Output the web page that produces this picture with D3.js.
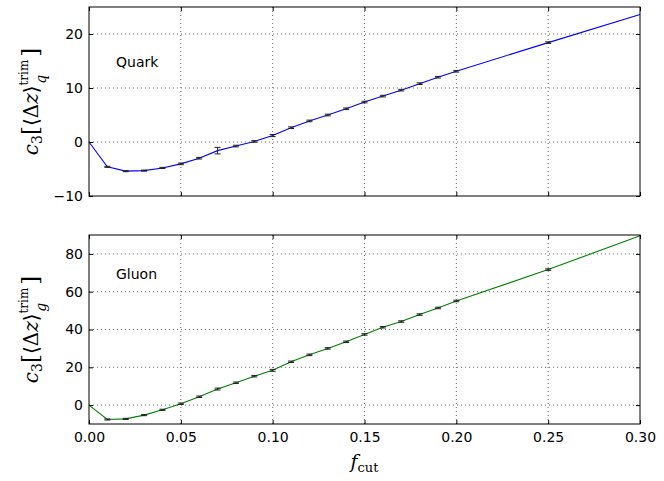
<!DOCTYPE html>
<html><head><meta charset="utf-8">
<script src="https://cdn.jsdelivr.net/npm/d3@7"></script>
<style>body{margin:0;background:#fff}svg{display:block}</style>
</head><body>
<svg id="c" width="664" height="481"></svg>
<script>
const fcut = [0,0.01,0.02,0.03,0.04,0.05,0.06,0.07,0.08,0.09,0.10,0.11,0.12,0.13,0.14,0.15,0.16,0.17,0.18,0.19,0.20,0.25,0.30];
const quark = [0,-4.6,-5.4,-5.3,-4.8,-4.05,-3.0,-1.6,-0.75,0.1,1.2,2.65,3.9,5.0,6.15,7.4,8.5,9.6,10.8,12.0,13.1,18.4,23.6];
const quarkErr = [0,0.1,0.1,0.1,0.1,0.15,0.15,0.6,0.15,0.15,0.2,0.15,0.15,0.15,0.15,0.15,0.15,0.15,0.15,0.15,0.15,0.15,0];
const gluon = [0,-7.6,-7.3,-5.3,-2.5,0.7,4.4,8.5,11.8,15.3,18.4,22.9,26.6,30.0,33.5,37.4,41.2,44.2,47.9,51.4,55.1,71.7,89.6];
const gluonErr = [0,0.3,0.3,0.3,0.3,0.4,0.4,0.5,0.4,0.4,0.5,0.4,0.4,0.4,0.4,0.4,0.4,0.4,0.4,0.4,0.4,0.4,0];
const xTicks = [0,0.05,0.10,0.15,0.20,0.25,0.30];
const quarkTicks = [-10,0,10,20];
const gluonTicks = [0,20,40,60,80];

const svg = d3.select("#c");
const L = 89, R = 640;
const x = d3.scaleLinear().domain([0,0.30]).range([L,R]);

function panel(top, bottom, domain, ticks, data, err, color, name, nameY, showX, sub) {
  const y = d3.scaleLinear().domain(domain).range([bottom, top]);
  const g = svg.append("g");
  g.selectAll(".gx").data(xTicks.slice(1,-1)).enter().append("line")
    .attr("x1", d=>x(d)).attr("x2", d=>x(d)).attr("y1", top).attr("y2", bottom)
    .attr("stroke","#000").attr("stroke-width",0.6).attr("stroke-dasharray","1,3");
  g.selectAll(".gy").data(ticks.filter(t=>t>domain[0]&&t<domain[1])).enter().append("line")
    .attr("x1", L).attr("x2", R).attr("y1", d=>y(d)).attr("y2", d=>y(d))
    .attr("stroke","#000").attr("stroke-width",0.6).attr("stroke-dasharray","1,3");
  const ax = d3.axisBottom(x).tickValues(xTicks).tickSize(-4).tickPadding(8)
    .tickFormat(showX ? d3.format(".2f") : () => "");
  const axB = g.append("g").attr("transform",`translate(0,${bottom})`).call(ax);
  const axT = g.append("g").attr("transform",`translate(0,${top})`).call(d3.axisTop(x).tickValues(xTicks).tickSize(-4).tickFormat(()=>""));
  const ayL = g.append("g").attr("transform",`translate(${L},0)`).call(d3.axisLeft(y).tickValues(ticks).tickSize(-4).tickPadding(6).tickFormat(d=> d<0 ? "\u2212"+Math.abs(d) : d));
  const ayR = g.append("g").attr("transform",`translate(${R},0)`).call(d3.axisRight(y).tickValues(ticks).tickSize(-4).tickFormat(()=>""));
  [axB,axT,ayL,ayR].forEach(a=>{ a.select(".domain").remove(); a.selectAll("line").attr("stroke","#000");
    a.selectAll("text").attr("font-family","'DejaVu Sans'").attr("font-size",14).attr("fill","#000"); });
  const line = d3.line().x((d,i)=>x(fcut[i])).y(d=>y(d));
  g.append("path").datum(data).attr("d",line).attr("fill","none").attr("stroke",color).attr("stroke-width",1.1);
  const eb = g.selectAll(".eb").data(data.map((v,i)=>({x:fcut[i],v,e:err[i]})).filter(d=>d.e>0)).enter().append("g");
  eb.append("line").attr("x1",d=>x(d.x)).attr("x2",d=>x(d.x)).attr("y1",d=>y(d.v-d.e)).attr("y2",d=>y(d.v+d.e)).attr("stroke","#222").attr("stroke-width",1);
  eb.append("line").attr("x1",d=>x(d.x)-3).attr("x2",d=>x(d.x)+3).attr("y1",d=>y(d.v-d.e)).attr("y2",d=>y(d.v-d.e)).attr("stroke","#222").attr("stroke-width",1);
  eb.append("line").attr("x1",d=>x(d.x)-3).attr("x2",d=>x(d.x)+3).attr("y1",d=>y(d.v+d.e)).attr("y2",d=>y(d.v+d.e)).attr("stroke","#222").attr("stroke-width",1);
  g.append("rect").attr("x",L).attr("y",top).attr("width",R-L).attr("height",bottom-top).attr("fill","none").attr("stroke","#000").attr("stroke-width",1);
  g.append("text").attr("x",116).attr("y",nameY).attr("font-family","'DejaVu Sans'").attr("font-size",14).text(name);
  const cy = (top+bottom)/2;
  const t = svg.append("text").attr("transform",`translate(38,${cy}) rotate(-90)`).attr("text-anchor","middle")
    .attr("font-family","'DejaVu Serif'").attr("font-size",20);
  t.append("tspan").attr("font-style","italic").text("c");
  t.append("tspan").attr("font-size",14).attr("dy",4).text("3");
  t.append("tspan").attr("dy",-4).attr("font-size",23).text("[");
  t.append("tspan").text("\u27E8\u0394");
  t.append("tspan").attr("font-style","italic").text("z");
  t.append("tspan").text("\u27E9");
  t.append("tspan").attr("font-size",12).attr("dy",-10).text("trim");
  t.append("tspan").attr("font-size",14).attr("font-style","italic").attr("dx",-24).attr("dy",18).text(sub);
  t.append("tspan").attr("font-size",23).attr("dx",18).attr("dy",-8).text("]");
}

panel(7, 196, [-10,25], quarkTicks, quark, quarkErr, "#0000ff", "Quark", 67, false, "q");
panel(235, 424, [-10,90], gluonTicks, gluon, gluonErr, "#008000", "Gluon", 279, true, "g");

const xl = svg.append("text").attr("x",(L+R)/2).attr("y",468).attr("text-anchor","middle")
  .attr("font-family","'DejaVu Serif'").attr("font-size",19);
xl.append("tspan").attr("font-style","italic").text("f");
xl.append("tspan").attr("font-size",13).attr("dy",4).text("cut");
</script>
</body></html>
